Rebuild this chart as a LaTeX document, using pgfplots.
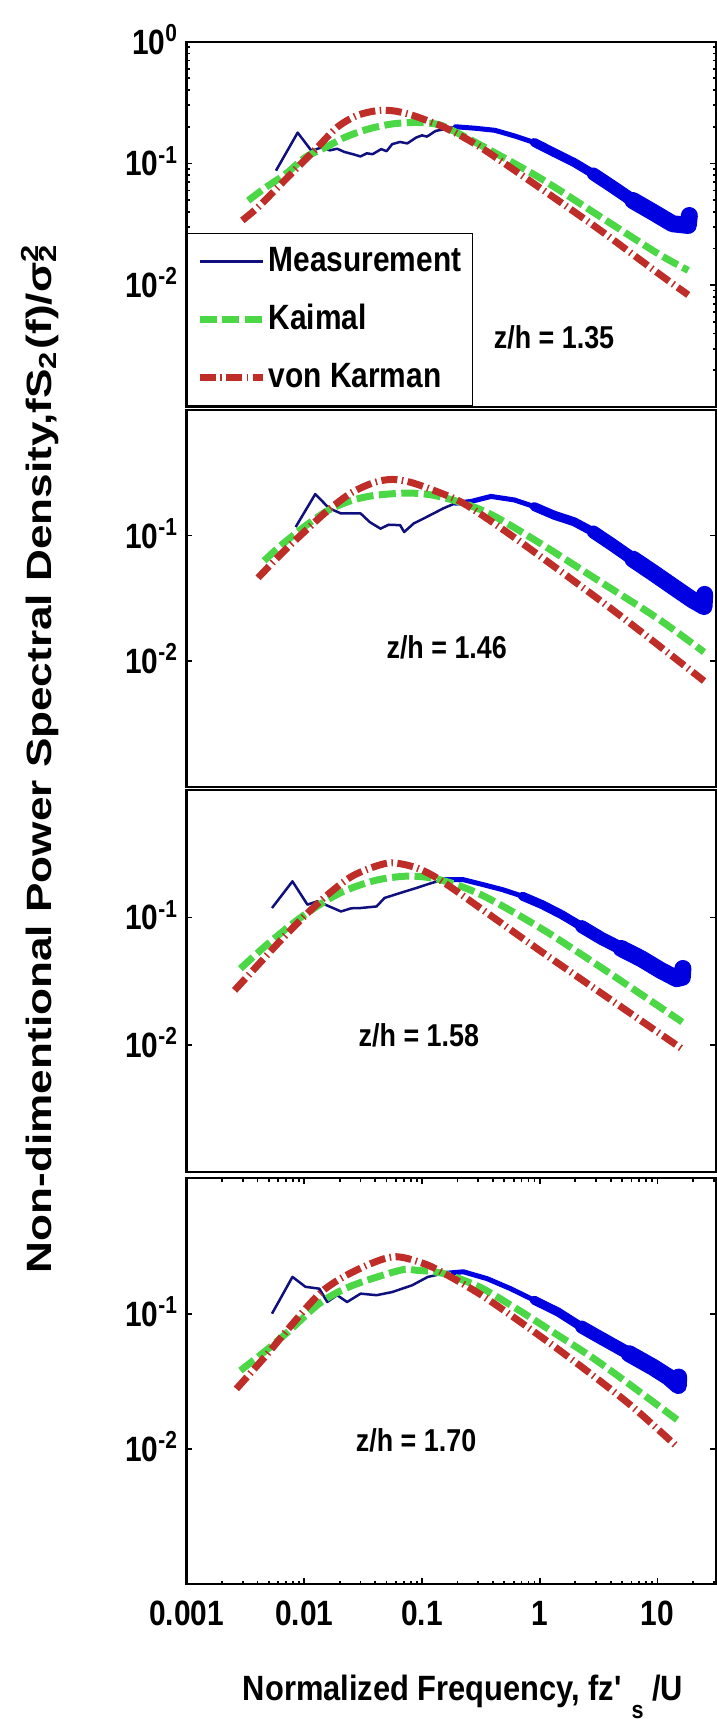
\documentclass[border=0pt]{standalone}
\usepackage{fontspec}
\setmainfont{Liberation Sans}[FakeStretch=0.85]
\usepackage{graphicx}
\usepackage{pgfplots}
\usepackage{pgfplotstable}
\pgfplotsset{compat=1.18}

\definecolor{measline}{RGB}{15,15,125}
\definecolor{measband}{RGB}{0,0,225}
\definecolor{kaimalc}{RGB}{75,215,70}
\definecolor{karmanc}{RGB}{190,45,40}

% z/h = 1.35
\pgfplotstableread{
x y
0.00575 0.0871
0.00879 0.179
0.0115 0.127
0.0140 0.135
0.0165 0.128
0.019 0.132
0.022 0.124
0.0259 0.119
0.030 0.114
0.034 0.121
0.038 0.119
0.045 0.131
0.050 0.126
0.0558 0.144
0.065 0.150
0.075 0.146
0.0889 0.163
0.100 0.170
0.110 0.166
0.1306 0.185
0.150 0.190
0.192 0.200
0.2825 0.1945
0.416 0.187
0.611 0.168
0.897 0.1486
1.318 0.123
1.95 0.1019
2.85 0.0818
4.21 0.0637
6.17 0.0495
9.12 0.0398
13.4 0.0319
18.2 0.0309
18.6 0.0373
}\mA
\pgfplotstableread{
x y
0.00334 0.0495
0.00474 0.0637
0.00697 0.082
0.0102 0.112
0.0151 0.135
0.0222 0.164
0.0352 0.192
0.0558 0.211
0.0889 0.217
0.13 0.211
0.165 0.195
0.316 0.141
1 0.0759
3.16 0.0372
10 0.0182
18.2 0.0132
}\kA
\pgfplotstableread{
x y
0.00298 0.034
0.00405 0.0436
0.00597 0.0637
0.00879 0.093
0.0129 0.135
0.019 0.198
0.0279 0.247
0.0411 0.271
0.0558 0.271
0.0762 0.255
0.112 0.224
0.165 0.192
0.316 0.135
1 0.063
3.16 0.0288
10 0.0126
18.2 0.0083
}\vA

% z/h = 1.46
\pgfplotstableread{
x y
0.00845 0.117
0.0124 0.214
0.01626 0.165
0.0205 0.150
0.0301 0.150
0.036 0.128
0.0444 0.1135
0.052 0.122
0.0652 0.121
0.0705 0.1067
0.085 0.125
0.1035 0.137
0.125 0.150
0.152 0.165
0.192 0.181
0.261 0.187
0.385 0.205
0.611 0.192
0.897 0.170
1.318 0.1455
1.95 0.129
2.85 0.1067
4.21 0.0834
6.17 0.0649
9.12 0.0507
13.4 0.0395
19.7 0.0308
24.8 0.0272
25.1 0.034
}\mB
\pgfplotstableread{
x y
0.00456 0.063
0.00631 0.0832
0.01 0.1175
0.0158 0.158
0.0251 0.19
0.0398 0.209
0.0759 0.218
0.126 0.209
0.224 0.181
0.398 0.145
1 0.0871
3.16 0.0437
10 0.0219
24.8 0.0118
}\kB
\pgfplotstableread{
x y
0.00405 0.0461
0.00631 0.0708
0.01 0.107
0.0158 0.158
0.0251 0.219
0.0398 0.266
0.0562 0.28
0.0794 0.266
0.126 0.229
0.224 0.181
0.501 0.1096
1.585 0.0501
5.01 0.0224
24.8 0.00695
}\vB

% z/h = 1.58
\pgfplotstableread{
x y
0.00532 0.1186
0.00794 0.192
0.01064 0.126
0.0129 0.1337
0.01507 0.126
0.0205 0.1114
0.025 0.118
0.0301 0.1186
0.0411 0.122
0.048 0.1422
0.0652 0.1556
0.0889 0.170
0.121 0.1866
0.152 0.198
0.224 0.198
0.33 0.181
0.485 0.165
0.714 0.1466
1.047 0.126
1.54 0.105
2.27 0.0847
3.33 0.0686
4.91 0.0571
7.23 0.0476
10.6 0.0385
14.5 0.0331
16.2 0.0339
16.4 0.0398
}\mC
\pgfplotstableread{
x y
0.00287 0.0397
0.00501 0.0631
0.01 0.1047
0.01995 0.155
0.0398 0.195
0.0762 0.211
0.141 0.198
0.316 0.151
1 0.0832
3.16 0.0417
16.2 0.0151
}\kC
\pgfplotstableread{
x y
0.00256 0.0268
0.00398 0.0417
0.00631 0.0661
0.01 0.102
0.0158 0.151
0.0251 0.209
0.0398 0.251
0.0562 0.2685
0.0891 0.2455
0.141 0.198
0.316 0.1175
1 0.055
3.16 0.0263
16.2 0.00927
}\vC

% z/h = 1.70
\pgfplotstableread{
x y
0.00532 0.100
0.00794 0.187
0.01023 0.158
0.01343 0.153
0.01567 0.122
0.019 0.137
0.0231 0.122
0.0301 0.1406
0.0411 0.137
0.0558 0.1445
0.0822 0.162
0.112 0.187
0.152 0.198
0.224 0.204
0.356 0.1816
0.565 0.153
0.897 0.1256
1.43 0.1028
2.27 0.0796
3.6 0.0634
5.73 0.0506
9.12 0.0403
12.4 0.034
15.0 0.0294
15.1 0.034
}\mD
\pgfplotstableread{
x y
0.00287 0.038
0.00474 0.0535
0.00753 0.0753
0.01396 0.122
0.0259 0.162
0.0652 0.2094
0.0889 0.2094
0.152 0.198
0.305 0.158
0.611 0.111
1.318 0.0724
2.85 0.0468
6.17 0.0288
15.0 0.0162
}\kD
\pgfplotstableread{
x y
0.00265 0.0278
0.00474 0.0491
0.00753 0.0796
0.01396 0.1445
0.0259 0.2037
0.0558 0.263
0.1035 0.2344
0.165 0.1923
0.316 0.138
0.631 0.0912
1.318 0.0575
2.85 0.0347
6.17 0.0204
15.0 0.0102
}\vD

\tikzset{
  kaimline/.style={kaimalc, line width=0.7mm, dash pattern=on 1.7mm off 0.55mm},
  karmline/.style={karmanc, line width=0.7mm, dash pattern=on 1.6mm off 0.45mm on 0.15mm off 0.45mm},
  measthin/.style={measline, line width=0.25mm, line join=round},
  measthick/.style={measband, line join=round, line cap=round},
  zhlabel/.style={font=\bfseries\fontsize{9}{10}\selectfont},
}
\pgfplotsset{legend image code/.code={\draw[#1] (0mm,0mm) -- (6.3mm,0mm);}}

\begin{document}
\begin{tikzpicture}[font=\bfseries\fontsize{10}{12}\selectfont]
\useasboundingbox (0,0) rectangle (71.7mm,-171.9mm);

% panel 1
\begin{axis}[at={(18.65mm,-40.67mm)}, anchor=south west,
  scale only axis, width=53mm, height=36.5mm,
  xmode=log, ymode=log, xmin=1e-3, xmax=31.62, ymin=1e-3, ymax=1,
  axis line style={line width=0.6pt}, tick style={black, line width=0.5pt},
  major tick length=0.6mm, minor tick length=0.35mm,
  xtick=\empty, xminorticks=false,
  ytick={1,0.1,0.01},
  yticklabels={10\textsuperscript{0},10\textsuperscript{-1},10\textsuperscript{-2}},
  minor ytick={0.002,0.003,0.004,0.005,0.006,0.007,0.008,0.009,0.02,0.03,0.04,0.05,0.06,0.07,0.08,0.09,0.2,0.3,0.4,0.5,0.6,0.7,0.8,0.9},
  tick label style={font=\bfseries\fontsize{10}{12}\selectfont},
  yticklabel style={anchor=base east, yshift=-1.25mm, xshift=-0.7mm, inner sep=0pt},
  legend cell align=left,
  legend style={at={(0,0)}, anchor=south west, draw=black, fill=white,
    inner xsep=0.9mm, inner ysep=1.1mm, row sep=2.3mm, column sep=0mm,
    nodes={inner sep=0.25mm}},
]
\addplot[measthin] table {\mA};
\addlegendentry{Measurement}
\addplot[measthick, line width=0.5mm, skip coords between index={0}{21}, forget plot] table {\mA};
\addplot[measthick, line width=0.9mm, skip coords between index={0}{25}, forget plot] table {\mA};
\addplot[measthick, line width=1.3mm, skip coords between index={0}{28}, forget plot] table {\mA};
\addplot[measthick, line width=1.7mm, skip coords between index={0}{30}, forget plot] table {\mA};
\addplot[kaimline, smooth] table {\kA};
\addlegendentry{Kaimal}
\addplot[karmline, smooth] table {\vA};
\addlegendentry{von Karman}
\node[zhlabel] at (axis cs:1.32,0.0037) {z/h = 1.35};
\end{axis}

% panel 2
\begin{axis}[at={(18.65mm,-78.67mm)}, anchor=south west,
  scale only axis, width=53mm, height=37.67mm,
  xmode=log, ymode=log, xmin=1e-3, xmax=31.62, ymin=1e-3, ymax=1,
  axis line style={line width=0.6pt}, tick style={black, line width=0.5pt},
  major tick length=0.6mm,
  xtick=\empty, xminorticks=false, yminorticks=false,
  ytick={0.1,0.01}, yticklabels={10\textsuperscript{-1},10\textsuperscript{-2}},
  tick label style={font=\bfseries\fontsize{10}{12}\selectfont},
  yticklabel style={anchor=base east, yshift=-1.25mm, xshift=-0.7mm, inner sep=0pt},
]
\addplot[measthin] table {\mB};
\addplot[measthick, line width=0.5mm, skip coords between index={0}{14}] table {\mB};
\addplot[measthick, line width=0.9mm, skip coords between index={0}{18}] table {\mB};
\addplot[measthick, line width=1.3mm, skip coords between index={0}{21}] table {\mB};
\addplot[measthick, line width=1.7mm, skip coords between index={0}{23}] table {\mB};
\addplot[kaimline, smooth] table {\kB};
\addplot[karmline, smooth] table {\vB};
\node[zhlabel] at (axis cs:0.162,0.0129) {z/h = 1.46};
\end{axis}

% panel 3
\begin{axis}[at={(18.65mm,-117.23mm)}, anchor=south west,
  scale only axis, width=53mm, height=38.23mm,
  xmode=log, ymode=log, xmin=1e-3, xmax=31.62, ymin=1e-3, ymax=1,
  axis line style={line width=0.6pt}, tick style={black, line width=0.5pt},
  major tick length=0.6mm,
  xtick=\empty, xminorticks=false, yminorticks=false,
  ytick={0.1,0.01}, yticklabels={10\textsuperscript{-1},10\textsuperscript{-2}},
  tick label style={font=\bfseries\fontsize{10}{12}\selectfont},
  yticklabel style={anchor=base east, yshift=-1.25mm, xshift=-0.7mm, inner sep=0pt},
]
\addplot[measthin] table {\mC};
\addplot[measthick, line width=0.5mm, skip coords between index={0}{13}] table {\mC};
\addplot[measthick, line width=0.9mm, skip coords between index={0}{17}] table {\mC};
\addplot[measthick, line width=1.3mm, skip coords between index={0}{20}] table {\mC};
\addplot[measthick, line width=1.7mm, skip coords between index={0}{22}] table {\mC};
\addplot[kaimline, smooth] table {\kC};
\addplot[karmline, smooth] table {\vC};
\node[zhlabel] at (axis cs:0.094,0.0118) {z/h = 1.58};
\end{axis}

% panel 4
\begin{axis}[at={(18.65mm,-158.43mm)}, anchor=south west,
  scale only axis, width=53mm, height=40.6mm,
  xmode=log, ymode=log, xmin=1e-3, xmax=31.62, ymin=1e-3, ymax=1,
  axis line style={line width=0.6pt}, tick style={black, line width=0.5pt},
  major tick length=0.6mm, minor tick length=0.35mm,
  yminorticks=false,
  ytick={0.1,0.01}, yticklabels={10\textsuperscript{-1},10\textsuperscript{-2}},
  xtick={0.001,0.01,0.1,1,10},
  xticklabels={0.001,0.01,0.1,1,10},
  minor xtick={0.002,0.003,0.004,0.005,0.006,0.007,0.008,0.009,0.02,0.03,0.04,0.05,0.06,0.07,0.08,0.09,0.2,0.3,0.4,0.5,0.6,0.7,0.8,0.9,2,3,4,5,6,7,8,9,20,30},
  tick label style={font=\bfseries\fontsize{10}{12}\selectfont},
  yticklabel style={anchor=base east, yshift=-1.25mm, xshift=-0.7mm, inner sep=0pt},
  xticklabel style={anchor=base, yshift=-4.15mm, inner sep=0pt},
]
\addplot[measthin] table {\mD};
\addplot[measthick, line width=0.5mm, skip coords between index={0}{12}] table {\mD};
\addplot[measthick, line width=0.9mm, skip coords between index={0}{16}] table {\mD};
\addplot[measthick, line width=1.3mm, skip coords between index={0}{18}] table {\mD};
\addplot[measthick, line width=1.7mm, skip coords between index={0}{20}] table {\mD};
\addplot[kaimline, smooth] table {\kD};
\addplot[karmline, smooth] table {\vD};
\node[zhlabel] at (axis cs:0.089,0.0115) {z/h = 1.70};
\end{axis}

\node[rotate=90, anchor=base] at (5.1mm,-75.8mm)
  {\resizebox{103mm}{\height}{Non-dimentional Power Spectral Density,fS\textsubscript{2}(f)/σ\rlap{\textsuperscript{2}}\textsubscript{2}}};
\node[anchor=base] at (46.3mm,-170.0mm)
  {\resizebox{44.0mm}{\height}{Normalized Frequency, fz\textquotesingle\ \raisebox{-1.8mm}{\scriptsize s} /U}};
\end{tikzpicture}
\end{document}
